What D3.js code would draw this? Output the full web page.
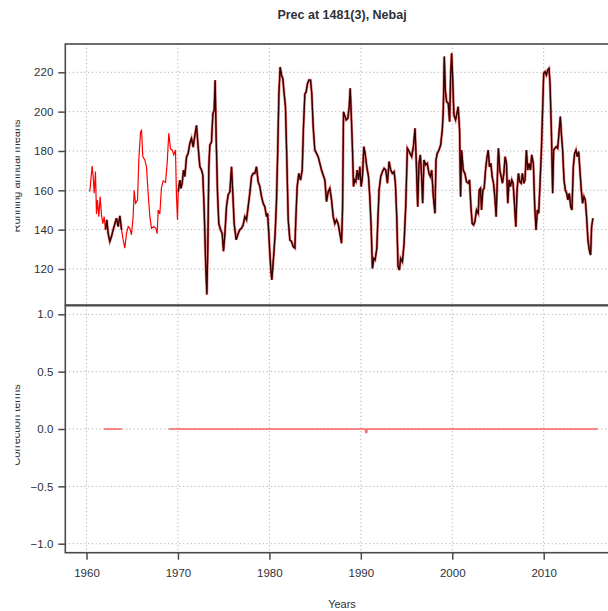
<!DOCTYPE html>
<html><head><meta charset="utf-8">
<script src="https://cdn.jsdelivr.net/npm/d3@7"></script>
<style>body{margin:0;background:#fff}svg{display:block}text{font-family:"Liberation Sans",Arial,sans-serif;}</style>
</head><body>
<script>
const title = "Prec at 1481(3), Nebaj";
const xLabel = "Years";
const yLabelTop = "Running annual means";
const yLabelBottom = "Correction terms";
const xTicks = [1960, 1970, 1980, 1990, 2000, 2010];
const yTicksTop = [120, 140, 160, 180, 200, 220];
const yTicksBottom = [-1.0, -0.5, 0.0, 0.5, 1.0];

const years = [
1960.36,1960.62,1960.73,1960.84,1960.98,1961.09,1961.20,1961.35,1961.49,1961.64,1961.79,1961.93,
1962.08,1962.22,1962.37,1962.55,1962.73,1962.92,1963.10,1963.28,1963.46,1963.65,1963.83,1964.01,
1964.19,1964.37,1964.56,1964.74,1964.92,1965.10,1965.21,1965.36,1965.58,1965.72,1965.91,1966.02,
1966.16,1966.38,1966.56,1966.74,1966.93,1967.11,1967.36,1967.58,1967.73,1967.84,1968.02,1968.20,
1968.39,1968.64,1968.82,1969.00,1969.19,1969.37,1969.55,1969.73,1969.84,1969.95,
1970.03,1970.21,1970.32,1970.46,1970.61,1970.75,1970.94,1971.12,1971.30,1971.48,1971.67,1971.85,
1972.03,1972.21,1972.40,1972.58,1972.72,1972.87,1973.02,1973.16,1973.27,1973.38,1973.49,1973.67,
1973.82,1973.96,1974.07,1974.18,1974.33,1974.47,1974.66,1974.84,1974.98,1975.13,1975.31,1975.49,
1975.68,1975.86,1976.00,1976.15,1976.37,1976.59,1976.77,1976.95,1977.13,1977.32,1977.50,1977.68,
1977.86,1978.05,1978.23,1978.41,1978.59,1978.77,1978.96,1979.14,1979.32,1979.50,1979.69,1979.80,
1979.94,1980.05,1980.16,1980.27,1980.38,1980.49,1980.63,1980.78,1980.89,1981.04,1981.18,1981.33,
1981.47,1981.62,1981.76,1981.91,1982.06,1982.24,1982.42,1982.60,1982.79,1982.89,1983.04,1983.22,
1983.41,1983.59,1983.73,1983.88,1984.02,1984.17,1984.32,1984.50,1984.64,1984.79,1984.97,1985.15,
1985.34,1985.52,1985.70,1985.88,1986.07,1986.25,1986.43,1986.61,1986.80,1986.98,1987.16,1987.34,
1987.52,1987.71,1987.89,1988.00,1988.11,
1988.40,1988.58,1988.73,1988.84,1988.95,1989.09,1989.20,1989.31,1989.45,1989.60,1989.75,1989.89,
1990.04,1990.18,1990.33,1990.47,1990.65,1990.84,1990.98,1991.13,1991.27,1991.42,1991.56,1991.75,
1991.85,1992.00,1992.18,1992.36,1992.55,1992.73,1992.91,1993.09,1993.27,1993.45,1993.64,1993.78,
1993.93,1994.07,1994.22,1994.36,1994.55,1994.73,1994.91,1995.09,1995.20,1995.38,1995.56,1995.75,
1995.93,1996.07,1996.22,1996.36,1996.51,1996.65,1996.76,1996.91,1997.09,1997.27,1997.45,1997.60,
1997.75,1997.93,1998.11,1998.22,1998.36,1998.55,1998.73,1998.91,1999.02,1999.13,1999.24,1999.38,
1999.56,1999.71,1999.82,1999.93,2000.04,2000.18,2000.36,2000.51,2000.65,2000.80,2000.91,2001.02,
2001.20,2001.38,2001.56,2001.75,2001.89,2002.04,2002.18,2002.33,2002.47,2002.65,2002.84,2002.95,
2003.09,2003.20,2003.35,2003.49,2003.64,2003.78,2003.93,2004.07,2004.22,2004.36,2004.51,2004.65,
2004.80,2004.95,2005.05,2005.20,2005.35,2005.49,2005.64,2005.78,2005.93,2006.07,2006.22,2006.36,
2006.51,2006.65,2006.80,2006.95,2007.09,2007.24,2007.38,2007.53,2007.67,2007.82,2007.96,2008.11,
2008.25,2008.40,2008.55,2008.69,2008.87,2009.02,2009.16,2009.31,2009.45,2009.60,2009.75,2009.89,
2010.00,2010.15,2010.29,2010.44,2010.58,2010.69,2010.84,2010.98,2011.09,2011.24,2011.38,2011.53,
2011.67,2011.82,2011.93,2012.07,2012.22,2012.36,2012.51,2012.65,2012.80,2012.95,2013.09,2013.24,
2013.38,2013.53,2013.67,2013.82,2013.96,2014.11,2014.25,2014.40,2014.55,2014.69,2014.84,2014.98,
2015.13,2015.24,2015.38
];
const prec = [
159.3,172.3,167.0,158.5,169.5,148.0,155.0,146.6,156.8,147.5,143.0,146.6,
140.0,145.0,138.0,134.0,136.5,140.0,143.0,145.8,141.6,147.0,140.0,134.8,
130.6,138.0,141.6,140.7,137.4,146.6,160.0,153.4,155.0,175.4,189.7,190.5,
177.0,175.4,172.0,158.5,146.6,140.7,141.6,140.7,138.0,150.0,148.0,161.4,
164.8,164.0,173.7,189.0,181.0,180.5,178.0,180.5,156.8,145.0,
159.3,165.2,161.0,163.5,170.3,167.0,177.0,178.8,183.8,186.4,182.0,188.0,
193.0,182.0,172.0,170.3,167.8,150.0,124.7,107.0,131.4,172.0,183.0,184.6,
199.0,200.7,216.0,187.0,158.5,143.0,140.0,138.0,129.0,137.4,151.7,157.6,
159.3,172.0,158.5,143.0,134.8,138.0,140.0,140.7,142.4,146.6,145.0,151.7,
158.5,167.0,168.6,168.6,172.0,164.4,161.9,156.8,153.4,151.7,146.6,148.3,
138.0,128.0,119.6,114.5,121.3,128.0,138.0,155.0,175.4,209.0,222.7,218.5,
216.8,209.0,202.4,175.4,145.0,134.8,134.0,131.4,130.6,145.0,161.9,168.6,
165.2,170.3,192.3,209.0,210.0,214.3,216.0,216.0,209.0,192.3,180.5,178.8,
177.0,173.7,170.3,167.8,165.2,154.3,159.3,161.0,155.0,146.6,143.0,145.0,
143.0,138.0,133.1,150.0,199.9,
195.8,196.6,202.5,211.9,199.1,180.5,161.9,165.3,164.4,170.3,165.3,172.0,
161.9,167.0,182.2,178.8,172.0,167.0,156.8,141.5,120.3,125.4,124.6,130.5,
143.2,160.2,167.0,169.5,171.2,170.3,163.6,174.6,170.3,168.6,169.5,163.6,
146.6,121.2,119.5,125.4,123.7,133.0,151.7,181.4,180.5,178.8,177.1,182.2,
191.5,173.7,151.7,173.7,178.0,167.0,153.4,175.4,172.9,173.7,168.6,167.0,
170.3,156.8,148.3,175.4,178.8,180.5,183.0,190.7,200.8,228.0,211.0,205.1,
204.2,194.9,217.8,229.7,217.8,198.3,195.8,199.1,202.5,190.7,156.8,180.5,
170.3,168.6,164.4,163.6,165.3,151.7,143.2,142.4,144.0,150.0,148.3,160.2,
161.0,150.0,160.2,161.0,170.3,176.3,180.5,172.0,173.7,167.0,163.6,156.8,
146.6,168.6,181.4,170.3,167.0,163.6,168.6,177.1,173.7,153.4,165.3,161.9,
165.3,163.6,153.4,141.5,160.2,168.6,164.4,163.6,168.6,163.6,165.3,180.5,
170.3,173.7,170.3,178.0,173.7,151.7,139.8,150.0,148.3,163.6,180.5,202.5,
219.5,220.3,218.6,221.2,222.0,214.4,190.7,158.5,180.5,181.4,182.2,181.4,
189.0,197.5,189.0,180.5,165.3,160.2,158.5,155.1,158.5,151.7,150.0,172.0,
178.8,180.5,177.1,179.7,170.3,160.2,153.4,156.8,155.1,146.6,134.7,129.7,
127.1,141.5,145.8
];
// observed (black) periods
const observedStart = [1962.0, 1970.0];
const observedEnd = [1964.0, 2016.0];

// correction terms (null = no data)
const corrYears = [1961.9, 1963.9, 1964.0, 1969.0, 1990.50, 1990.55, 1990.65, 1990.70, 2015.9];
const corrValues = [0, 0, null, 0, 0, -0.03, -0.03, 0, 0];

const W = 608, H = 611;
const svg = d3.select("body").append("svg").attr("width", W).attr("height", H);

const plotL = 65.3, plotR = 619;
const topT = 44, topB = 305;
const botT = 305.7, botB = 552.7;

const x = d3.scaleLinear().domain([1960, 2010]).range([86.5, 543.7]);
const yTop = d3.scaleLinear().domain([120, 220]).range([269, 72.3]);
const yBot = d3.scaleLinear().domain([-1, 1]).range([543.7, 314.3]);

const gridColor = "#b0b0b0", gridDash = "1.2,2.6";
const textColor = "#2e3038";

const defs = svg.append("defs");
defs.append("clipPath").attr("id", "clipTop").append("rect")
  .attr("x", plotL).attr("y", topT).attr("width", plotR - plotL).attr("height", topB - topT);
defs.append("clipPath").attr("id", "clipBot").append("rect")
  .attr("x", plotL).attr("y", botT).attr("width", plotR - plotL).attr("height", botB - botT);
defs.append("clipPath").attr("id", "clipLab").append("rect")
  .attr("x", 15.5).attr("y", 0).attr("width", 40).attr("height", H);

function drawGrid(g, yScale, yTicks, t, b) {
  g.selectAll(".vg").data(xTicks).join("line")
    .attr("x1", d => x(d)).attr("x2", d => x(d)).attr("y1", t).attr("y2", b)
    .attr("stroke", gridColor).attr("stroke-dasharray", gridDash).attr("stroke-width", 1);
  g.selectAll(".hg").data(yTicks).join("line").attr("class", "hg")
    .attr("x1", plotL).attr("x2", plotR).attr("y1", d => yScale(d)).attr("y2", d => yScale(d))
    .attr("stroke", gridColor).attr("stroke-dasharray", gridDash).attr("stroke-width", 1);
}

const gTop = svg.append("g").attr("clip-path", "url(#clipTop)");
drawGrid(gTop, yTop, yTicksTop, topT, topB);
const gBot = svg.append("g").attr("clip-path", "url(#clipBot)");
drawGrid(gBot, yBot, yTicksBottom, botT, botB);

const data = years.map((yr, i) => ({ x: yr, y: prec[i] }));
const lineTop = d3.line().x(d => x(d.x)).y(d => yTop(d.y));

// observed periods: reddish halo under black
const segs = observedStart.map((s, k) => data.filter(d => d.x >= s && d.x <= observedEnd[k]));
segs.forEach(seg => {
  gTop.append("path").datum(seg).attr("d", lineTop)
    .attr("fill", "none").attr("stroke", "#c04040").attr("stroke-opacity", 0.55).attr("stroke-width", 2.8);
});
// full (filled) series in red
gTop.append("path").datum(data).attr("d", lineTop)
  .attr("fill", "none").attr("stroke", "#ff0000").attr("stroke-width", 1.2);
// observed series in black
segs.forEach(seg => {
  gTop.append("path").datum(seg).attr("d", lineTop)
    .attr("fill", "none").attr("stroke", "#1a0000").attr("stroke-opacity", 0.9).attr("stroke-width", 1.3);
});

const corrData = corrYears.map((yr, i) => ({ x: yr, y: corrValues[i] }));
gBot.append("path").datum(corrData)
  .attr("d", d3.line().defined(d => d.y !== null).x(d => x(d.x)).y(d => yBot(d.y)))
  .attr("fill", "none").attr("stroke", "#ff3030").attr("stroke-opacity", 0.75).attr("stroke-width", 1.4);

const frameColor = "#4a4a4a";
svg.append("rect").attr("x", plotL).attr("y", topT).attr("width", plotR - plotL).attr("height", topB - topT)
  .attr("fill", "none").attr("stroke", frameColor).attr("stroke-width", 1.6);
svg.append("rect").attr("x", plotL).attr("y", botT).attr("width", plotR - plotL).attr("height", botB - botT)
  .attr("fill", "none").attr("stroke", frameColor).attr("stroke-width", 1.6);

function leftAxis(yScale, ticks, fmt) {
  const g = svg.append("g").attr("transform", `translate(${plotL},0)`)
    .call(d3.axisLeft(yScale).tickValues(ticks).tickFormat(fmt).tickSize(7).tickPadding(5));
  g.select(".domain").remove();
  g.selectAll(".tick line").attr("stroke", frameColor).attr("stroke-width", 1.5);
  g.selectAll(".tick text").attr("fill", textColor).attr("font-size", 11.5)
    .attr("font-family", '"Liberation Sans", Arial, sans-serif');
}
leftAxis(yTop, yTicksTop, d3.format("d"));
leftAxis(yBot, yTicksBottom, d => d3.format(".1f")(d).replace("-", "\u2212"));

const gx = svg.append("g").attr("transform", `translate(0,${botB})`)
  .call(d3.axisBottom(x).tickValues(xTicks).tickFormat(d3.format("d")).tickSize(7).tickPadding(9));
gx.select(".domain").remove();
gx.selectAll(".tick line").attr("stroke", frameColor).attr("stroke-width", 1.5);
gx.selectAll(".tick text").attr("fill", textColor).attr("font-size", 11.5)
  .attr("font-family", '"Liberation Sans", Arial, sans-serif');

svg.append("text").attr("x", 342).attr("y", 19).attr("text-anchor", "middle")
  .attr("font-size", 12.5).attr("font-weight", "bold").attr("fill", textColor).text(title);
svg.append("text").attr("x", 342).attr("y", 608).attr("text-anchor", "middle")
  .attr("font-size", 11).attr("fill", textColor).text(xLabel);

const labG = svg.append("g").attr("clip-path", "url(#clipLab)");
labG.append("text").attr("transform", "translate(20,176) rotate(-90)").attr("text-anchor", "middle")
  .attr("font-size", 11).attr("fill", textColor).text(yLabelTop);
labG.append("text").attr("transform", "translate(20,425) rotate(-90)").attr("text-anchor", "middle")
  .attr("font-size", 11).attr("fill", textColor).text(yLabelBottom);
</script>
</body></html>
